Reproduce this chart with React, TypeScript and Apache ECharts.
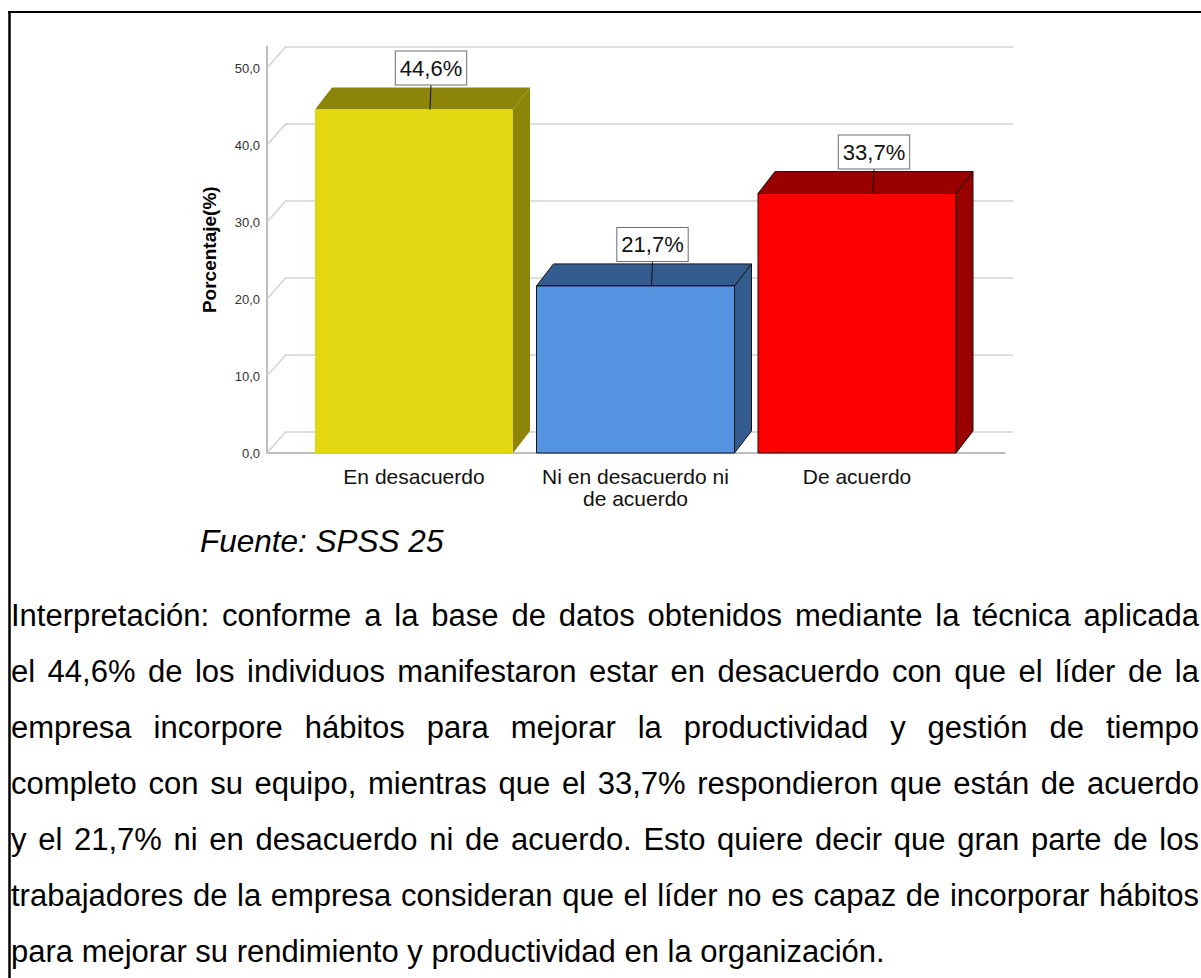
import React, { useEffect, useRef } from "react";
import * as echarts from "echarts";

// ---- data ----
const categories = ["En desacuerdo", "Ni en desacuerdo ni\nde acuerdo", "De acuerdo"];
const percentages = [44.6, 21.7, 33.7];
const valueLabels = ["44,6%", "21,7%", "33,7%"];
const yTicks = [0, 10, 20, 30, 40, 50];
const axisName = "Porcentaje(%)";
const sourceText = "Fuente: SPSS 25";
const paragraphLines = [
  "Interpretación: conforme a la base de datos obtenidos mediante la técnica aplicada",
  "el 44,6% de los individuos manifestaron estar en desacuerdo con que el líder de la",
  "empresa incorpore hábitos para mejorar la productividad y gestión de tiempo",
  "completo con su equipo, mientras que el 33,7% respondieron que están de acuerdo",
  "y el 21,7% ni en desacuerdo ni de acuerdo. Esto quiere decir que gran parte de los",
  "trabajadores de la empresa consideran que el líder no es capaz de incorporar hábitos",
  "para mejorar su rendimiento y productividad en la organización.",
];

// ---- styles ----
const FONT = '"Liberation Sans", Arial, sans-serif';
const frontColors = ["#E2D710", "#5594E1", "#FF0000"];
const shadeColors = ["#8C850A", "#355C8E", "#990000"];
const outlineColors = [null, "#151515", "#151515"];

export default function App() {
  const ref = useRef<HTMLDivElement>(null);

  useEffect(() => {
    if (!ref.current) return;
    const chart = echarts.init(ref.current, undefined, { renderer: "svg" });

    // layout for paragraph (justified)
    const bodySize = 31;
    const ctx = document.createElement("canvas").getContext("2d")!;
    ctx.font = `${bodySize}px "Liberation Sans"`;
    const leftX = 11;
    const rightX = 1199;
    const firstY = 615;
    const lineGap = 56;
    const bodyTexts: any[] = [];
    paragraphLines.forEach((line, li) => {
      const y = firstY + li * lineGap;
      const last = li === paragraphLines.length - 1;
      if (last) {
        bodyTexts.push({
          type: "text", x: leftX, y,
          style: { text: line, font: `${bodySize}px ${FONT}`, fill: "#000", verticalAlign: "middle", align: "left" },
        });
        return;
      }
      const words = line.split(" ");
      const widths = words.map((w) => ctx.measureText(w).width);
      const total = widths.reduce((a, b) => a + b, 0);
      const gap = (rightX - leftX - total) / (words.length - 1);
      let x = leftX;
      words.forEach((w, i) => {
        bodyTexts.push({
          type: "text", x, y,
          style: { text: w, font: `${bodySize}px ${FONT}`, fill: "#000", verticalAlign: "middle", align: "left" },
        });
        x += widths[i] + gap;
      });
    });

    const depthX = 17;
    const depthY = 22;
    const wallDX = 19;
    const wallDY = 21.5;

    const frontTop = 68;
    const floorY = 453;
    const plotH = floorY - frontTop;
    const wallTop = frontTop - wallDY;
    const frameMax = 50 * (floorY - wallTop) / plotH;

    const option: any = {
      animation: false,
      backgroundColor: "#ffffff",
      grid: [
        { left: 303.25, top: frontTop, width: 664.5, height: plotH },
        { left: 267, top: wallTop, width: 738, height: floorY - wallTop },
        { left: 267 + wallDX, top: wallTop, width: 727, height: plotH },
      ],
      xAxis: [
        {
          type: "category", gridIndex: 0, data: categories,
          axisLine: { show: false }, axisTick: { show: false },
          axisLabel: { fontSize: 21, fontFamily: FONT, color: "#111", margin: 12, lineHeight: 22, interval: 0 },
        },
        {
          type: "value", gridIndex: 1, min: 0, max: 1,
          axisLine: { show: true, lineStyle: { color: "#a8a8a8", width: 1.5 } },
          axisTick: { show: false }, axisLabel: { show: false }, splitLine: { show: false },
        },
        {
          type: "value", gridIndex: 2, min: 0, max: 1, show: false,
        },
      ],
      yAxis: [
        {
          type: "value", gridIndex: 0, min: 0, max: 50, interval: 10, show: false,
        },
        {
          type: "value", gridIndex: 1, min: 0, max: frameMax, interval: 10,
          axisLine: { show: true, lineStyle: { color: "#a8a8a8", width: 1.5 } },
          axisTick: { show: false }, splitLine: { show: false },
          axisLabel: {
            fontSize: 13, fontFamily: FONT, color: "#333", margin: 7,
            formatter: (v: number) => (yTicks.includes(Math.round(v * 1000) / 1000) ? v.toFixed(1).replace(".", ",") : ""),
          },
          name: axisName, nameLocation: "middle", nameGap: 48, nameRotate: 90,
          nameTextStyle: { fontSize: 19, fontWeight: "bold", fontFamily: FONT, color: "#000" },
        },
        {
          type: "value", gridIndex: 2, min: 0, max: 50, interval: 10,
          axisLine: { show: false }, axisTick: { show: false }, axisLabel: { show: false },
          splitLine: { show: true, lineStyle: { color: "#d2d2d2", width: 1.5 } },
        },
      ],
      series: [
        {
          type: "custom", xAxisIndex: 1, yAxisIndex: 1, z: 1,
          data: yTicks.map((v) => [0, v]),
          renderItem: (params: any, api: any) => {
            const p = api.coord([0, api.value(1)]);
            return {
              type: "line",
              shape: { x1: p[0], y1: p[1], x2: p[0] + wallDX, y2: p[1] - wallDY },
              style: { stroke: "#d2d2d2", lineWidth: 1.5 },
            };
          },
        },
        {
          type: "custom", xAxisIndex: 0, yAxisIndex: 0, z: 5,
          data: percentages.map((v, i) => [i, v]),
          renderItem: (params: any, api: any) => {
            const i = params.dataIndex;
            const top = api.coord([api.value(0), api.value(1)]);
            const base = api.coord([api.value(0), 0]);
            const band = api.size([1, 0])[0];
            const w = band * 0.894;
            const x0 = top[0] - w / 2;
            const x1 = top[0] + w / 2;
            const yT = top[1];
            const yB = base[1];
            const stroke = outlineColors[i] || frontColors[i];
            const lw = outlineColors[i] ? 1 : 0;
            return {
              type: "group",
              children: [
                {
                  type: "polygon",
                  shape: { points: [[x1, yT], [x1 + depthX, yT - depthY], [x1 + depthX, yB - depthY], [x1, yB]] },
                  style: { fill: shadeColors[i], stroke: outlineColors[i] || shadeColors[i], lineWidth: lw },
                },
                {
                  type: "polygon",
                  shape: { points: [[x0, yT], [x0 + depthX, yT - depthY], [x1 + depthX, yT - depthY], [x1, yT]] },
                  style: { fill: shadeColors[i], stroke: outlineColors[i] || shadeColors[i], lineWidth: lw },
                },
                {
                  type: "rect",
                  shape: { x: x0, y: yT, width: w, height: yB - yT },
                  style: { fill: frontColors[i], stroke, lineWidth: lw },
                },
                {
                  type: "line",
                  shape: { x1: top[0] + depthX, y1: yT - 25, x2: top[0] + depthX - 1, y2: yT },
                  style: { stroke: "#111", lineWidth: 1 },
                },
                {
                  type: "text",
                  x: top[0] + depthX,
                  y: yT - 25,
                  style: {
                    text: valueLabels[i],
                    font: `22px ${FONT}`,
                    fill: "#111",
                    align: "center",
                    verticalAlign: "bottom",
                    backgroundColor: "#ffffff",
                    borderColor: "#6e6e6e",
                    borderWidth: 1,
                    padding: [6, 4, 5, 4],
                  },
                },
              ],
            };
          },
        },
      ],
      graphic: [
        { type: "line", shape: { x1: 8, y1: 12, x2: 1201, y2: 12 }, style: { stroke: "#000", lineWidth: 2 } },
        { type: "line", shape: { x1: 9.5, y1: 11, x2: 9.5, y2: 978 }, style: { stroke: "#000", lineWidth: 2.5 } },
        {
          type: "text", x: 200, y: 541,
          style: { text: sourceText, font: `italic 31.5px ${FONT}`, fill: "#000", verticalAlign: "middle", align: "left" },
        },
        ...bodyTexts,
      ],
    };

    chart.setOption(option);
    return () => chart.dispose();
  }, []);

  return (
    <div
      ref={ref}
      style={{ position: "absolute", left: 0, top: 0, width: 1201, height: 978, background: "#fff" }}
    />
  );
}
